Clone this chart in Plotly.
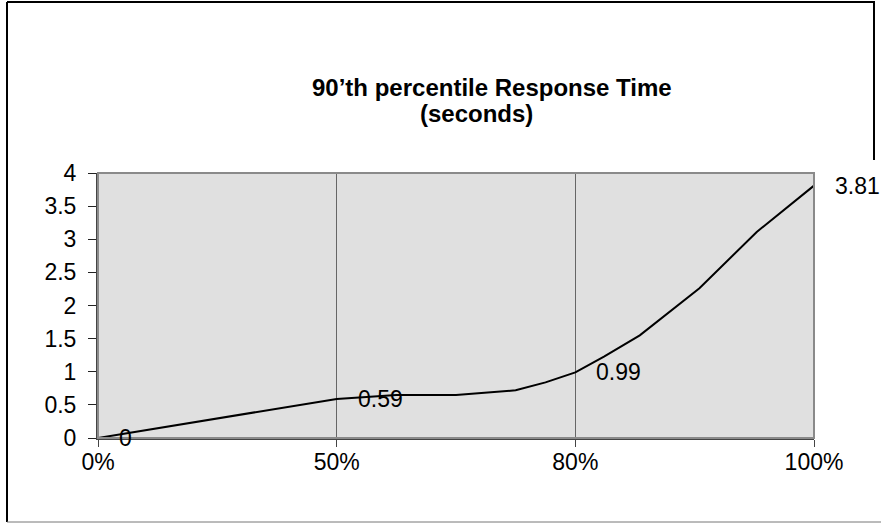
import plotly.graph_objects as go

# ---- data ----
categories = ["0%", "50%", "80%", "100%"]
labelled_values = [0, 0.59, 0.99, 3.81]
# curve as drawn (positions in category-index units)
curve_pos = [0, 1, 1.25, 1.5, 1.75, 1.875, 2, 2.12, 2.27, 2.52, 2.76, 3]
curve_val = [0, 0.59, 0.65, 0.65, 0.72, 0.84, 0.99, 1.23, 1.55, 2.26, 3.11, 3.81]
y_ticks = [0, 0.5, 1, 1.5, 2, 2.5, 3, 3.5, 4]
y_tick_text = ["0", "0.5", "1", "1.5", "2", "2.5", "3", "3.5", "4"]
title_lines = ["<b>90’th percentile Response Time</b>", "<b>(seconds)</b>"]

W, H = 881, 523
L, R, T, B = 98, 814, 173, 438
FONT = "Liberation Sans, Arial, sans-serif"


def px(x):
    return (x - L) / (R - L)


def py(y):
    return (B - y) / (B - T)


fig = go.Figure()
fig.add_trace(go.Scatter(
    x=curve_pos, y=curve_val, mode="lines",
    line=dict(color="black", width=2), hoverinfo="skip", showlegend=False,
))

for i, v in enumerate(labelled_values):
    fig.add_annotation(
        x=i, y=v, xref="x", yref="y", text=str(v),
        showarrow=False, xanchor="left", yanchor="middle", xshift=19,
        font=dict(family=FONT, size=23, color="black"),
    )

fig.add_annotation(x=px(492), y=py(87), xref="paper", yref="paper",
                   text=title_lines[0], showarrow=False, xanchor="center", yanchor="middle",
                   font=dict(family=FONT, size=24, color="black"))
fig.add_annotation(x=px(476), y=py(113), xref="paper", yref="paper",
                   text=title_lines[1], showarrow=False, xanchor="center", yanchor="middle",
                   font=dict(family=FONT, size=24, color="black"))

shapes = [
    # plot area border (gray)
    dict(type="rect", xref="paper", yref="paper", x0=0, x1=1, y0=0, y1=1,
         line=dict(color="#8a8a8a", width=2), layer="above"),
    # outer frame
    dict(type="line", xref="paper", yref="paper", x0=px(7), x1=px(875), y0=py(2), y1=py(2),
         line=dict(color="black", width=2)),
    dict(type="line", xref="paper", yref="paper", x0=px(7), x1=px(7), y0=py(2), y1=py(522),
         line=dict(color="black", width=2)),
    dict(type="line", xref="paper", yref="paper", x0=px(874), x1=px(874), y0=py(2), y1=py(160),
         line=dict(color="black", width=2)),
    dict(type="line", xref="paper", yref="paper", x0=px(7), x1=px(881), y0=py(522), y1=py(522),
         line=dict(color="#777777", width=1)),
]

fig.update_layout(
    width=W, height=H,
    margin=dict(l=L, r=W - R, t=T, b=H - B, pad=0),
    paper_bgcolor="white", plot_bgcolor="#e0e0e0",
    showlegend=False, shapes=shapes,
    font=dict(family=FONT, size=23, color="black"),
    xaxis=dict(
        range=[0, 3], tickvals=[0, 1, 2, 3], ticktext=categories,
        showgrid=True, gridcolor="#666666", gridwidth=1, zeroline=False,
        showline=True, linecolor="#444444", linewidth=2,
        ticks="outside", ticklen=7, tickcolor="#444444", tickwidth=1,
        ticklabelstandoff=-5,
        tickfont=dict(family=FONT, size=23, color="black"), fixedrange=True,
    ),
    yaxis=dict(
        range=[0, 4], tickvals=y_ticks, ticktext=y_tick_text,
        showgrid=False, zeroline=False,
        showline=True, linecolor="#444444", linewidth=2,
        ticks="outside", ticklen=8, tickcolor="#222222", tickwidth=1,
        ticklabelstandoff=7,
        tickfont=dict(family=FONT, size=23, color="black"), fixedrange=True,
    ),
)

fig.write_html(
    "out.html",
    config={"displayModeBar": False},
    post_script="document.body.style.margin='0';document.body.style.overflow='hidden';",
)
